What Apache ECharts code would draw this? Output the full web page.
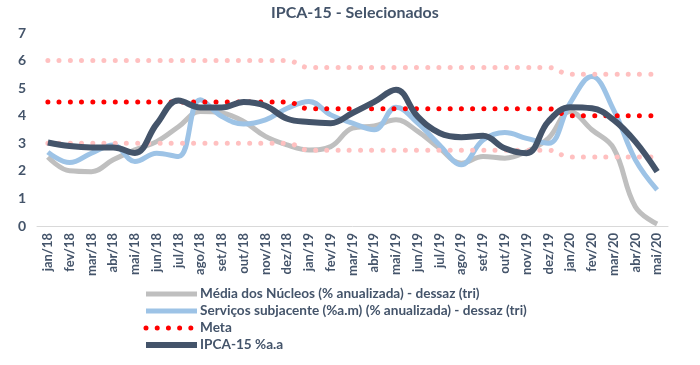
<!DOCTYPE html>
<html>
<head>
<meta charset="utf-8">
<script src="https://cdn.jsdelivr.net/npm/echarts@6/dist/echarts.min.js"></script>
<style>html,body{margin:0;padding:0;background:#fff;}#c{width:700px;height:365px;}</style>
</head>
<body>
<div id="c"></div>
<script>
const categories = ['jan/18','fev/18','mar/18','abr/18','mai/18','jun/18','jul/18','ago/18','set/18','out/18','nov/18','dez/18',
  'jan/19','fev/19','mar/19','abr/19','mai/19','jun/19','jul/19','ago/19','set/19','out/19','nov/19','dez/19',
  'jan/20','fev/20','mar/20','abr/20','mai/20'];
const mediaNucleos = [2.5,2.0,1.97,2.4,2.76,3.06,3.6,4.15,4.1,3.79,3.25,2.94,2.76,2.88,3.55,3.63,3.85,3.43,2.82,2.28,2.52,2.46,2.7,3.18,4.15,3.49,2.82,0.7,0.07];
const servicos = [2.68,2.3,2.64,2.94,2.34,2.64,2.52,4.58,3.97,3.7,3.85,4.27,4.52,4.03,3.73,3.49,4.31,3.73,2.94,2.22,3.12,3.39,3.18,3.0,4.46,5.42,4.21,2.4,1.31];
const meta = [4.5,4.5,4.5,4.5,4.5,4.5,4.5,4.5,4.5,4.5,4.5,4.5,4.25,4.25,4.25,4.25,4.25,4.25,4.25,4.25,4.25,4.25,4.25,4.25,4.0,4.0,4.0,4.0,4.0];
const superior = [6,6,6,6,6,6,6,6,6,6,6,6,5.75,5.75,5.75,5.75,5.75,5.75,5.75,5.75,5.75,5.75,5.75,5.75,5.5,5.5,5.5,5.5,5.5];
const inferior = [3,3,3,3,3,3,3,3,3,3,3,3,2.75,2.75,2.75,2.75,2.75,2.75,2.75,2.75,2.75,2.75,2.75,2.75,2.5,2.5,2.5,2.5,2.5];
const ipca15 = [3.03,2.9,2.85,2.85,2.65,3.7,4.55,4.3,4.3,4.5,4.36,3.89,3.77,3.73,4.1,4.5,4.94,3.97,3.37,3.22,3.27,2.82,2.64,3.79,4.31,4.27,3.85,3.06,1.97];
const yTicks = [0,1,2,3,4,5,6,7];

const txt = '#44546A';
const font = 'Lato';
const chart = echarts.init(document.getElementById('c'));
const dots = (color, w) => ({color: color, width: w, type: [0.01, 11.2], cap: 'round'});
const names = ['Média dos Núcleos (% anualizada) - dessaz (tri)', 'Serviços subjacente (%a.m) (% anualizada) - dessaz (tri)', 'Meta', 'IPCA-15 %a.a'];
chart.setOption({
  animation: false,
  title: {text: 'IPCA-15 - Selecionados', left: 271, top: 5, padding: 0,
    textStyle: {color: txt, fontFamily: font, fontWeight: 'bold', fontSize: 16}},
  grid: {left: 37, right: 32, top: 33, bottom: 139},
  legend: {
    orient: 'vertical', left: 143, top: 287, padding: 0, itemWidth: 51, itemHeight: 8, itemGap: 3,
    itemStyle: {opacity: 0},
    data: [
      {name: names[0], lineStyle: {width: 5}},
      {name: names[1], lineStyle: {width: 5}},
      {name: names[2], lineStyle: {width: 5}},
      {name: names[3], lineStyle: {width: 6}}
    ],
    textStyle: {color: txt, fontFamily: font, fontWeight: 'bold', fontSize: 13.6, padding: [0,0,0,-2]}
  },
  xAxis: {
    type: 'category', data: categories, boundaryGap: true,
    axisLine: {lineStyle: {color: '#D9D9D9'}}, axisTick: {show: false},
    axisLabel: {rotate: 90, interval: 0, color: txt, fontFamily: font, fontWeight: 'bold', fontSize: 13, margin: 7}
  },
  yAxis: {
    type: 'value', min: yTicks[0], max: yTicks[yTicks.length-1], interval: 1,
    splitLine: {show: false}, axisLine: {show: false}, axisTick: {show: false},
    axisLabel: {color: txt, fontFamily: font, fontWeight: 'bold', fontSize: 14, margin: 15, align: 'center'}
  },
  series: [
    {name: names[0], type: 'line', data: mediaNucleos, smooth: 0.4, symbol: 'none',
      lineStyle: {color: '#BFBFBF', width: 5}, itemStyle: {color: '#BFBFBF'}},
    {name: names[1], type: 'line', data: servicos, smooth: 0.4, symbol: 'none',
      lineStyle: {color: '#9DC3E6', width: 5}, itemStyle: {color: '#9DC3E6'}},
    {name: 'Superior', type: 'line', data: superior, smooth: 0.4, symbol: 'none', lineStyle: dots('#FFC0C0', 5)},
    {name: 'Inferior', type: 'line', data: inferior, smooth: 0.4, symbol: 'none', lineStyle: dots('#FFC0C0', 5)},
    {name: names[2], type: 'line', data: meta, smooth: 0.4, symbol: 'none', lineStyle: dots('#FF0000', 5), itemStyle: {color: '#FF0000'}},
    {name: names[3], type: 'line', data: ipca15, smooth: 0.4, symbol: 'none',
      lineStyle: {color: '#44546A', width: 6}, itemStyle: {color: '#44546A'}}
  ]
});
</script>
</body>
</html>
